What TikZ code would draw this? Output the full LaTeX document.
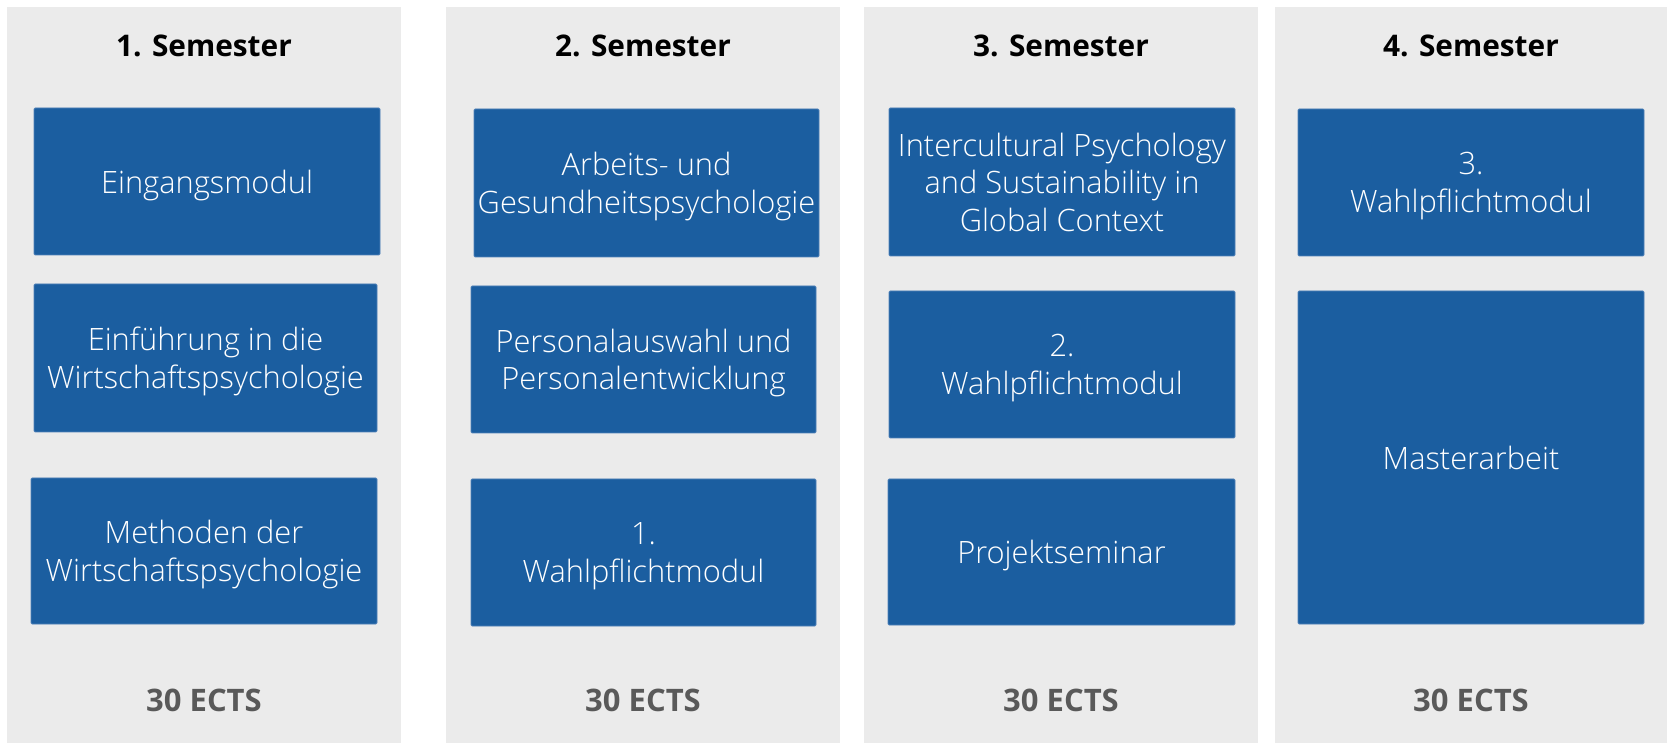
\documentclass[tikz,border=0pt]{standalone}
\usepackage{fontspec}
\setmainfont{Open Sans}
\newfontfamily\lightfont{Open Sans Light}
\definecolor{boxblue}{HTML}{1B5EA0}
\definecolor{boxedge}{HTML}{4F80B8}
\definecolor{colgray}{HTML}{EBEBEB}
\definecolor{ectsgray}{HTML}{595959}
\begin{document}
\begin{tikzpicture}[x=0.5pt,y=-0.5pt,
  colbg/.style={fill=colgray,draw=none},
  modbox/.style={rectangle,fill=boxblue,draw=boxedge,line width=0.4pt,rounded corners=0.6pt,
     text=white,align=center,font=\lightfont\fontsize{15.4}{18.8}\selectfont,inner sep=0pt,text depth=0pt},
  semhead/.style={font=\bfseries\fontsize{14.9}{18}\selectfont,text=black,inner sep=0pt},
  ects/.style={font=\bfseries\fontsize{15.5}{18}\selectfont,text=ectsgray,inner sep=0pt}]
\useasboundingbox[fill=white] (0,0) rectangle (1667,743);
% column backgrounds
\fill[colbg] (7,7) rectangle (401,743);
\fill[colbg] (446,7) rectangle (840,743);
\fill[colbg] (864,7) rectangle (1258,743);
\fill[colbg] (1275,7) rectangle (1667,743);
% headers
\node[semhead] (h1) at (204,46) {1. Semester};
\node[semhead] (h2) at (643,46) {2. Semester};
\node[semhead] (h3) at (1061,46) {3. Semester};
\node[semhead] (h4) at (1471,46) {4. Semester};
% ECTS
\node[ects] (e1) at (204,700) {30 ECTS};
\node[ects] (e2) at (643,700) {30 ECTS};
\node[ects] (e3) at (1061,700) {30 ECTS};
\node[ects] (e4) at (1471,700) {30 ECTS};
% semester 1
\node[modbox,minimum width=173pt,minimum height=73.5pt] (b11) at (207,181.5) {Eingangsmodul};
\node[modbox,minimum width=171.5pt,minimum height=74pt] (b12) at (205.5,358) {Einführung in die\\Wirtschaftspsychologie};
\node[modbox,minimum width=173pt,minimum height=73pt] (b13) at (204,551) {Methoden der\\Wirtschaftspsychologie};
% semester 2
\node[modbox,minimum width=172.5pt,minimum height=74pt] (b21) at (646.5,183) {Arbeits- und\\Gesundheitspsychologie};
\node[modbox,minimum width=172.5pt,minimum height=73.5pt] (b22) at (643.5,359.5) {Personalauswahl und\\Personalentwicklung};
\node[modbox,minimum width=172.5pt,minimum height=73.5pt] (b23) at (643.5,552.5) {1.\\Wahlpflichtmodul};
% semester 3
\node[modbox,minimum width=173pt,minimum height=74pt] (b31) at (1062,182) {Intercultural Psychology\\and Sustainability in\\Global Context};
\node[modbox,minimum width=173pt,minimum height=73.5pt] (b32) at (1062,364.5) {2.\\Wahlpflichtmodul};
\node[modbox,minimum width=173.5pt,minimum height=73pt] (b33) at (1061.5,552) {Projektseminar};
% semester 4
\node[modbox,minimum width=173pt,minimum height=73.5pt] (b41) at (1471,182.5) {3.\\Wahlpflichtmodul};
\node[modbox,minimum width=173pt,minimum height=166.5pt] (b42) at (1471,457.5) {Masterarbeit};
\end{tikzpicture}
\end{document}
